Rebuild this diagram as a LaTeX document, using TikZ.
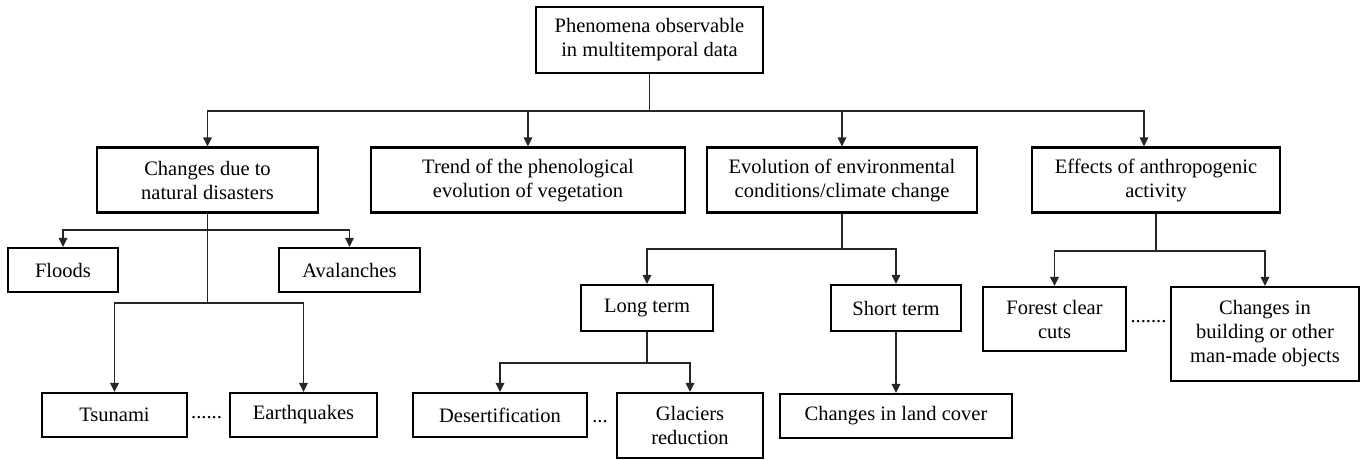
\documentclass[tikz,border=0pt]{standalone}
\usepackage{fontspec}
\setmainfont{Liberation Serif}
\newfontfamily\boxfont{Liberation Serif}
\usetikzlibrary{arrows.meta}
\begin{document}
\begin{tikzpicture}[x=1pt,y=-1pt,
  box/.style={draw=black, line width=2.2pt, fill=white, inner sep=0pt, align=center,
    font=\boxfont\fontsize{20.5}{24}\selectfont},
  conn/.style={draw=black!85, line width=1.4pt},
  arr/.style={conn, -{Triangle[length=9pt,width=8.5pt]}},
  gap/.style={inner sep=0pt, font=\boxfont\fontsize{20.5}{24}\selectfont}]
\useasboundingbox (0,0) rectangle (1368,460);
\fill[white] (0,0) rectangle (1368,460);

% root
\node[box, minimum width=227pt, minimum height=66pt] (top) at (649.5,40)
  {Phenomena observable\\in multitemporal data};

% first level
\node[box, minimum width=221pt, minimum height=65pt] (nat) at (207.5,180)
  {Changes due to\\natural disasters};
\node[box, minimum width=314pt, minimum height=65pt] (trend) at (528,180)
  {Trend of the phenological\\evolution of vegetation};
\node[box, minimum width=270pt, minimum height=65pt] (evo) at (842,180)
  {Evolution of environmental\\conditions/climate change};
\node[box, minimum width=248pt, minimum height=65pt] (eff) at (1156,180)
  {Effects of anthropogenic\\activity};

% natural disasters
\node[box, minimum width=110pt, minimum height=44pt] (floods) at (63,270) {Floods};
\node[box, minimum width=141pt, minimum height=44pt] (aval) at (349.5,270) {Avalanches};
\node[box, minimum width=145pt, minimum height=44pt] (tsu) at (114.5,415) {Tsunami};
\node[box, minimum width=147pt, minimum height=44pt] (earth) at (303.5,415) {Earthquakes};
\node[gap] (dotsA) at (206.5,418) {......};

% climate change
\node[box, minimum width=132pt, minimum height=46pt] (long) at (647,308) {Long term};
\node[box, minimum width=130pt, minimum height=46pt] (short) at (896,308) {Short term};
\node[box, minimum width=174pt, minimum height=44pt] (desert) at (500,415) {Desertification};
\node[box, minimum width=146pt, minimum height=65pt] (glac) at (690,425.5) {Glaciers\\reduction};
\node[gap] (dotsB) at (600,422) {...};
\node[box, minimum width=232pt, minimum height=44pt] (land) at (896,416) {Changes in land cover};

% anthropogenic activity
\node[box, minimum width=143pt, minimum height=64pt] (forest) at (1054.5,319) {Forest clear\\cuts};
\node[box, minimum width=188pt, minimum height=94pt] (build) at (1265,334)
  {Changes in\\building or other\\man-made objects};
\node[gap] (dotsC) at (1148.5,322) {.......};

% bus points
\coordinate (bus) at (649.5,111);
\coordinate (natbus) at (207.5,230);
\coordinate (natlow) at (207.5,303);
\coordinate (evobus) at (842,249);
\coordinate (longbus) at (647,363);
\coordinate (effbus) at (1156,251);

% connectors
\draw[conn] (top.south) -- (bus);
\draw[arr] (bus) -| (nat.north);
\draw[arr] (bus) -| (trend.north);
\draw[arr] (bus) -| (evo.north);
\draw[arr] (bus) -| ([xshift=-12pt]eff.north);

\draw[conn] (nat.south) -- (natlow);
\draw[arr] (natbus) -| (floods.north);
\draw[arr] (natbus) -| (aval.north);
\draw[arr] (natlow) -| (tsu.north);
\draw[arr] (natlow) -| (earth.north);

\draw[conn] (evo.south) -- (evobus);
\draw[arr] (evobus) -| (long.north);
\draw[arr] (evobus) -| (short.north);
\draw[conn] (long.south) -- (longbus);
\draw[arr] (longbus) -| (desert.north);
\draw[arr] (longbus) -| (glac.north);
\draw[arr] (short.south) -- (land.north);

\draw[conn] (eff.south) -- (effbus);
\draw[arr] (effbus) -| (forest.north);
\draw[arr] (effbus) -| (build.north);
\end{tikzpicture}
\end{document}
